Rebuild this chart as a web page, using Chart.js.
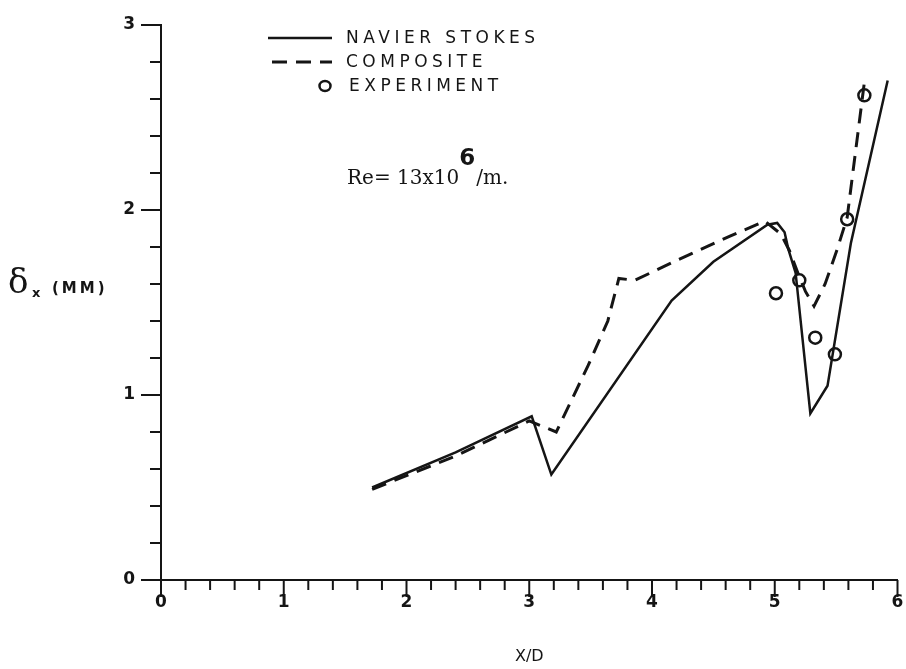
<!DOCTYPE html>
<html>
<head>
<meta charset="utf-8">
<script src="https://cdn.jsdelivr.net/npm/chart.js@4.4.1/dist/chart.umd.min.js"></script>
<style>
  html, body { margin: 0; padding: 0; background: #fff; }
</style>
</head>
<body>
<canvas id="deltaChart" width="906" height="669"></canvas>
<script>
/* Data */
// Navier-Stokes solution
const nsX = [1.72, 2.40, 3.02, 3.18, 4.16, 4.50, 4.94, 5.02, 5.08, 5.11, 5.17, 5.29, 5.43, 5.62, 5.92];
const nsY = [0.50, 0.69, 0.885, 0.57, 1.51, 1.72, 1.92, 1.93, 1.88, 1.79, 1.66, 0.90, 1.05, 1.82, 2.70];

// composite solution
const compX = [1.72, 2.40, 3.00, 3.22, 3.48, 3.64, 3.73, 3.86, 4.21, 4.64, 4.92, 5.05, 5.12, 5.20, 5.25, 5.32, 5.41, 5.51, 5.59, 5.73];
const compY = [0.49, 0.67, 0.86, 0.80, 1.16, 1.40, 1.63, 1.62, 1.73, 1.86, 1.94, 1.87, 1.78, 1.64, 1.56, 1.48, 1.60, 1.79, 1.96, 2.69];

// experiment
const expX = [5.01, 5.20, 5.33, 5.49, 5.59, 5.73];
const expY = [1.55, 1.62, 1.31, 1.22, 1.95, 2.62];

const seriesLabels = ['NAVIER STOKES', 'COMPOSITE', 'EXPERIMENT'];
const xTickLabels = ['0', '1', '2', '3', '4', '5', '6'];
const yTickLabels = ['0', '1', '2', '3'];

/* Constants */
const ink = '#151515';
const letterFont = '"DejaVu Sans", sans-serif';
const typeFont = '"DejaVu Serif", serif';

const toPoints = (xs, ys) => xs.map((x, i) => ({ x: x, y: ys[i] }));
const isWhole = (v) => Math.abs(v - Math.round(v)) < 1e-6;

// Hand-lettered style tick marks: long at whole units, short in between
const tickMarks = {
  id: 'tickMarks',
  afterDraw(chart) {
    const { ctx, chartArea, scales: { x, y } } = chart;
    ctx.save();
    ctx.strokeStyle = ink;
    ctx.lineWidth = 2;
    x.ticks.forEach(t => {
      const px = x.getPixelForValue(t.value);
      const len = isWhole(t.value) ? 17 : 10;
      ctx.beginPath();
      ctx.moveTo(px, chartArea.bottom);
      ctx.lineTo(px, chartArea.bottom + len);
      ctx.stroke();
    });
    y.ticks.forEach(t => {
      const py = y.getPixelForValue(t.value);
      const len = isWhole(t.value) ? 20 : 11;
      ctx.beginPath();
      ctx.moveTo(chartArea.left, py);
      ctx.lineTo(chartArea.left - len, py);
      ctx.stroke();
    });
    ctx.restore();
  }
};

// Legend block and the Reynolds number note
const notes = {
  id: 'notes',
  afterDraw(chart) {
    const ctx = chart.ctx;
    ctx.save();
    ctx.fillStyle = ink;
    ctx.strokeStyle = ink;

    const rowY = [38, 62, 86];
    chart.data.datasets.forEach((ds, i) => {
      const yy = rowY[i];
      if (ds.showLine === false) {
        ctx.lineWidth = ds.borderWidth;
        ctx.beginPath();
        ctx.ellipse(325, yy, 5.5, 5, 0, 0, Math.PI * 2);
        ctx.stroke();
      } else {
        ctx.lineWidth = ds.borderWidth;
        ctx.setLineDash(ds.borderDash || []);
        ctx.lineDashOffset = ds.borderDash ? -4 : 0;
        ctx.beginPath();
        ctx.moveTo(268, yy);
        ctx.lineTo(332, yy);
        ctx.stroke();
        ctx.setLineDash([]);
      }
      ctx.font = '17px ' + letterFont;
      ctx.letterSpacing = '4.5px';
      ctx.textBaseline = 'middle';
      ctx.fillText(ds.label, i === 2 ? 349 : 346, yy + 1);
    });

    // Re = 13x10^6 /m.
    ctx.letterSpacing = '0px';
    ctx.textBaseline = 'alphabetic';
    ctx.font = '20px ' + typeFont;
    const base = 'Re= 13x10';
    const w = ctx.measureText(base).width;
    ctx.fillText(base, 347, 184);
    ctx.font = 'bold 23px ' + letterFont;
    ctx.fillText('6', 347 + w, 165);
    ctx.font = '20px ' + typeFont;
    ctx.fillText('/m.', 347 + w + 17, 184);

    // y axis title: delta_x (MM)
    ctx.font = '34px ' + typeFont;
    ctx.fillText('\u03B4', 8, 293);
    ctx.font = 'bold 13px ' + letterFont;
    ctx.fillText('x', 32, 297);
    ctx.font = 'bold 15px ' + letterFont;
    ctx.letterSpacing = '3px';
    ctx.fillText('(MM)', 52, 293);
    ctx.restore();
  }
};

const ctxDelta = document.getElementById('deltaChart').getContext('2d');

const deltaChart = new Chart(ctxDelta, {
  type: 'line',
  data: {
    datasets: [
      {
        label: seriesLabels[0],
        data: toPoints(nsX, nsY),
        borderColor: ink,
        borderWidth: 2.5,
        pointRadius: 0,
        tension: 0,
        fill: false
      },
      {
        label: seriesLabels[1],
        data: toPoints(compX, compY),
        borderColor: ink,
        borderWidth: 3,
        borderDash: [15, 9],
        pointRadius: 0,
        tension: 0,
        fill: false
      },
      {
        label: seriesLabels[2],
        data: toPoints(expX, expY),
        showLine: false,
        borderColor: ink,
        backgroundColor: 'rgba(255,255,255,0)',
        borderWidth: 2.5,
        pointStyle: 'circle',
        pointRadius: 6,
        pointHoverRadius: 6
      }
    ]
  },
  options: {
    responsive: false,
    devicePixelRatio: 1,
    animation: false,
    layout: { padding: { top: 25, right: 3, left: 0, bottom: 0 } },
    plugins: {
      legend: { display: false },
      tooltip: { enabled: false }
    },
    scales: {
      x: {
        type: 'linear',
        min: 0,
        max: 6,
        afterFit(scale) {
          scale.height = 89;
          scale.paddingLeft = 0;
          scale.paddingRight = 0;
        },
        border: { display: true, color: ink, width: 2 },
        grid: { display: false, drawTicks: false },
        ticks: {
          stepSize: 0.2,
          autoSkip: false,
          maxRotation: 0,
          padding: 12,
          color: ink,
          font: { family: letterFont, size: 17, weight: 'bold' },
          callback: (v) => isWhole(v) ? xTickLabels[Math.round(v)] : ''
        },
        title: {
          display: true,
          text: 'X/D',
          color: ink,
          font: { family: letterFont, size: 16 },
          padding: { top: 0, bottom: 3 }
        }
      },
      y: {
        type: 'linear',
        min: 0,
        max: 3,
        afterFit(scale) {
          scale.width = 161;
          scale.paddingTop = 0;
          scale.paddingBottom = 0;
        },
        border: { display: true, color: ink, width: 2 },
        grid: { display: false, drawTicks: false },
        ticks: {
          stepSize: 0.2,
          autoSkip: false,
          padding: 26,
          color: ink,
          font: { family: letterFont, size: 17, weight: 'bold' },
          callback: (v) => isWhole(v) ? yTickLabels[Math.round(v)] : ''
        }
      }
    }
  },
  plugins: [tickMarks, notes]
});
</script>
</body>
</html>
